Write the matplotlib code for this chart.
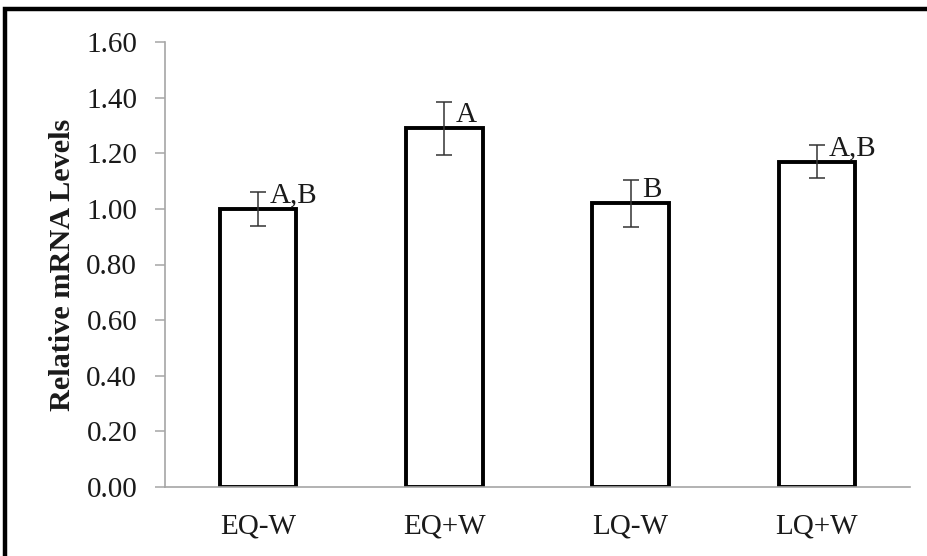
import matplotlib
matplotlib.use("Agg")
import matplotlib.pyplot as plt
from matplotlib.patches import Rectangle

# Data
categories = ["EQ-W", "EQ+W", "LQ-W", "LQ+W"]
values = [1.00, 1.29, 1.02, 1.17]
errors = [0.06, 0.095, 0.085, 0.06]
letters = ["A,B", "A", "B", "A,B"]
yticks = [0.0, 0.2, 0.4, 0.6, 0.8, 1.0, 1.2, 1.4, 1.6]

plt.rcParams["font.family"] = ["Liberation Serif", "DejaVu Serif"]

W, H = 927, 556
fig = plt.figure(figsize=(W / 100, H / 100), dpi=100)
ax = fig.add_axes([165 / W, 1 - 487 / H, (910 - 165) / W, (487 - 42) / H])

axis_gray = "#a6a6a6"
text_col = "#1a1a1a"

x = list(range(len(categories)))
ax.bar(x, values, width=0.41, color="white", edgecolor="black",
       linewidth=2.8, zorder=2)
ax.errorbar(x, values, yerr=errors, fmt="none", ecolor="#333333",
            elinewidth=1.1, capsize=5.5, capthick=1.1, zorder=3)

for xi, v, lab in zip(x, values, letters):
    ax.annotate(lab, (xi, v), xytext=(8.5, 4.5), textcoords="offset points",
                ha="left", va="baseline", fontsize=21, color=text_col,
                zorder=4)

ax.set_xlim(-0.5, len(categories) - 0.5)
ax.set_ylim(0, 1.6)
ax.set_yticks(yticks)
ax.set_yticklabels([f"{t:.2f}" for t in yticks])
ax.set_xticks(x)
ax.set_xticklabels(categories)

for side in ("top", "right"):
    ax.spines[side].set_visible(False)
for side in ("left", "bottom"):
    ax.spines[side].set_color(axis_gray)
    ax.spines[side].set_linewidth(1.2)

ax.tick_params(axis="y", direction="out", length=7, width=1.1,
               color=axis_gray, labelsize=21, labelcolor=text_col, pad=13)
ax.tick_params(axis="x", length=0, labelsize=21, labelcolor=text_col, pad=19)

ax.set_ylabel("Relative mRNA Levels", fontsize=21.8, fontweight="bold",
              color=text_col, labelpad=7)

# Frame drawn around the figure
fig.patches.append(Rectangle((4.5 / W, -0.2), 1.5, 1 - 9 / H + 0.2,
                             transform=fig.transFigure, fill=False,
                             edgecolor="black", linewidth=3.2))

fig.savefig("out.png", dpi=100)
